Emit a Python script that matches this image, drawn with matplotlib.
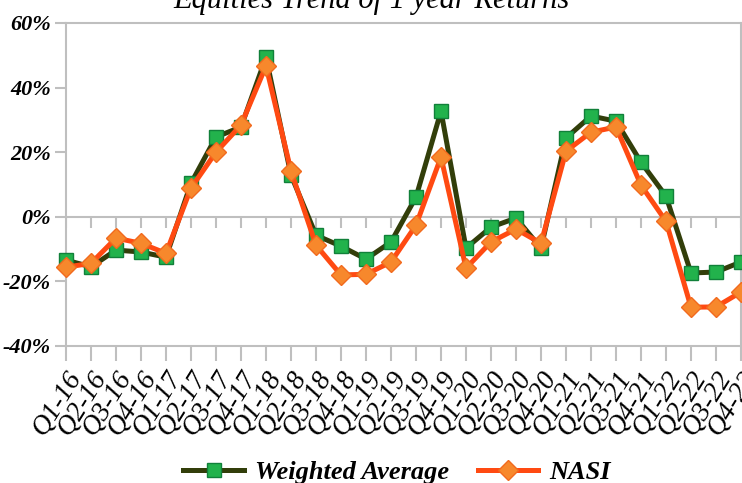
import matplotlib.pyplot as plt
import numpy as np

quarters = [
    "Q1-16", "Q2-16", "Q3-16", "Q4-16", "Q1-17", "Q2-17", "Q3-17", "Q4-17",
    "Q1-18", "Q2-18", "Q3-18", "Q4-18", "Q1-19", "Q2-19", "Q3-19", "Q4-19",
    "Q1-20", "Q2-20", "Q3-20", "Q4-20", "Q1-21", "Q2-21", "Q3-21", "Q4-21",
    "Q1-22", "Q2-22", "Q3-22", "Q4-22",
]
weighted_avg = [
    -13.4, -15.5, -10.3, -10.9, -12.5, 10.4, 24.7, 27.8,
    49.4, 12.9, -5.7, -9.1, -13.1, -7.8, 6.1, 32.7,
    -9.7, -3.2, -0.4, -9.7, 24.4, 31.2, 29.6, 16.9,
    6.4, -17.4, -17.1, -14.0,
]
nasi = [
    -15.6, -14.4, -6.6, -8.2, -11.3, 8.9, 20.0, 28.4,
    46.7, 14.2, -8.8, -18.0, -17.8, -14.0, -2.6, 18.5,
    -15.9, -7.8, -3.8, -8.2, 20.3, 26.2, 27.8, 9.8,
    -1.4, -28.0, -27.9, -23.3,
]
y_ticks = [-40, -20, 0, 20, 40, 60]

W, H = 742, 483
GREY = "#BFBFBF"
SERIF = "Liberation Serif"


def main():
    fig = plt.figure(figsize=(W / 100, H / 100), dpi=100)
    ax = fig.add_axes([66 / W, 1 - 346 / H, (741 - 66) / W, (346 - 23) / H])
    x = np.arange(len(quarters))

    ax.plot(x, weighted_avg, color="#323E0A", lw=3.6, marker="s", ms=10,
            mfc="#22B24C", mec="#11803A", mew=1.0, label="Weighted Average",
            zorder=3, clip_on=False)
    ax.plot(x, nasi, color="#FF4A12", lw=3.6, marker="D", ms=10,
            mfc="#F7882C", mec="#F26A1E", mew=1.0, label="NASI",
            zorder=4, clip_on=False)

    ax.set_xlim(0, len(quarters) - 1)
    ax.set_ylim(-40, 60)

    # category axis drawn at zero, with its tick marks
    ax.axhline(0, color=GREY, lw=1.5, zorder=1)
    ax.vlines(x, -3.4, 0, color=GREY, lw=1.5, zorder=1)

    for s in ax.spines.values():
        s.set_color(GREY)
        s.set_linewidth(1.5)

    ax.set_yticks(y_ticks)
    ax.set_yticklabels([f"{v}%" for v in y_ticks], family=SERIF,
                       style="italic", weight="bold", fontsize=16)
    ax.set_xticks(x)
    ax.set_xticklabels(quarters, family=SERIF, style="italic", fontsize=20,
                       rotation=58, ha="right", rotation_mode="anchor")
    ax.tick_params(axis="both", color=GREY, width=1.5, length=8, pad=3)
    ax.tick_params(axis="x", length=11, pad=4)

    fig.text(0.5, 1 - 8 / H, "Equities Trend of 1 year Returns",
             ha="center", va="baseline", family=SERIF, style="italic",
             fontsize=22)

    fig.legend(loc="center", bbox_to_anchor=(0.535, 1 - 472 / H),
               ncol=2, frameon=False, handlelength=2.3,
               columnspacing=1.1, handletextpad=0.4,
               prop={"family": SERIF, "style": "italic", "weight": "bold",
                     "size": 19})

    fig.savefig("out.png", dpi=100)


if __name__ == "__main__":
    main()
